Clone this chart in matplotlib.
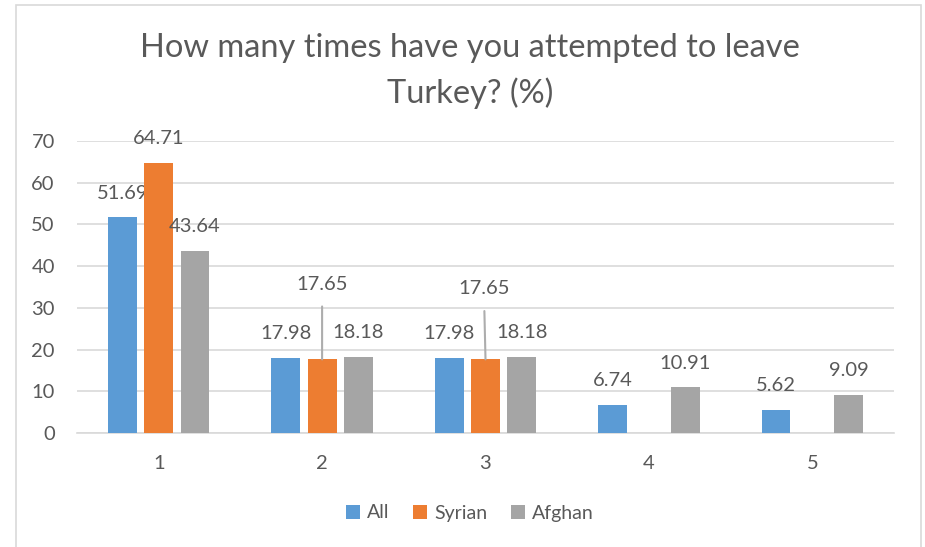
import numpy as np
import matplotlib
matplotlib.use('Agg')
import matplotlib.pyplot as plt
from matplotlib.patches import Rectangle

# Chart data
categories = ['1', '2', '3', '4', '5']
series_names = ['All', 'Syrian', 'Afghan']
all_vals = [51.69, 17.98, 17.98, 6.74, 5.62]
syrian_vals = [64.71, 17.65, 17.65, np.nan, np.nan]
afghan_vals = [43.64, 18.18, 18.18, 10.91, 9.09]

colors = ['#5B9BD5', '#ED7D31', '#A5A5A5']
text_color = '#595959'
grid_color = '#D9D9D9'

plt.rcParams['font.family'] = ['Lato', 'DejaVu Sans']

fig = plt.figure(figsize=(9.25, 5.47), dpi=100)
ax = fig.add_axes([77 / 925, 1 - 433 / 547, 817 / 925, 292 / 547])

# outer chart frame like the Excel chart area
fig.patches.append(Rectangle((16 / 925, -0.05), 905 / 925, 1.05 - 5 / 547,
                             transform=fig.transFigure, fill=False,
                             edgecolor=grid_color, linewidth=1.2))

x = np.arange(len(categories))
bar_w = 0.177
step = 0.222

# leader-line labels (series index, category index) -> label y in data units
leader_labels = {(1, 1): 35.7, (1, 2): 34.6}

for s, vals in enumerate([all_vals, syrian_vals, afghan_vals]):
    pos = x + (s - 1) * step
    ax.bar(pos, vals, width=bar_w, color=colors[s], label=series_names[s], zorder=3)
    for i, v in enumerate(vals):
        if np.isnan(v):
            continue
        if (s, i) in leader_labels:
            ly = leader_labels[(s, i)]
            ax.annotate(f'{v:.2f}', xy=(pos[i], v), xytext=(pos[i] - 0.01 * (i - 1), ly),
                        textcoords='data', ha='center', va='center',
                        fontsize=14.5, color=text_color,
                        arrowprops=dict(arrowstyle='-', color='#ADADAD', lw=1.5,
                                        shrinkA=8, shrinkB=0))
        else:
            ax.annotate(f'{v:.2f}', xy=(pos[i], v), xytext=(0, 17.5),
                        textcoords='offset points', ha='center', va='center',
                        fontsize=14.5, color=text_color)

ax.set_xlim(-0.5, len(categories) - 0.5)
ax.set_ylim(0, 70)
ax.set_yticks(range(0, 71, 10))
ax.set_xticks(x)
ax.set_xticklabels(categories)
ax.tick_params(axis='both', length=0, labelsize=14.5, labelcolor=text_color)
ax.tick_params(axis='y', pad=16)
ax.tick_params(axis='x', pad=16)

ax.grid(axis='y', color=grid_color, linewidth=1.2, zorder=0)
for side in ['top', 'right', 'left']:
    ax.spines[side].set_visible(False)
ax.spines['bottom'].set_color(grid_color)
ax.spines['bottom'].set_linewidth(1.2)

fig.text(470 / 925, 1 - 71 / 547, 'How many times have you attempted to leave\nTurkey? (%)',
         ha='center', va='center', fontsize=23.5, color=text_color, linespacing=1.55)

fig.legend(loc='center', bbox_to_anchor=(470 / 925, 1 - 513 / 547), ncol=3,
           frameon=False, fontsize=14, labelcolor=text_color,
           handlelength=0.7, handleheight=0.7, handletextpad=0.4, columnspacing=1.2)

fig.savefig('out.png', dpi=100)
